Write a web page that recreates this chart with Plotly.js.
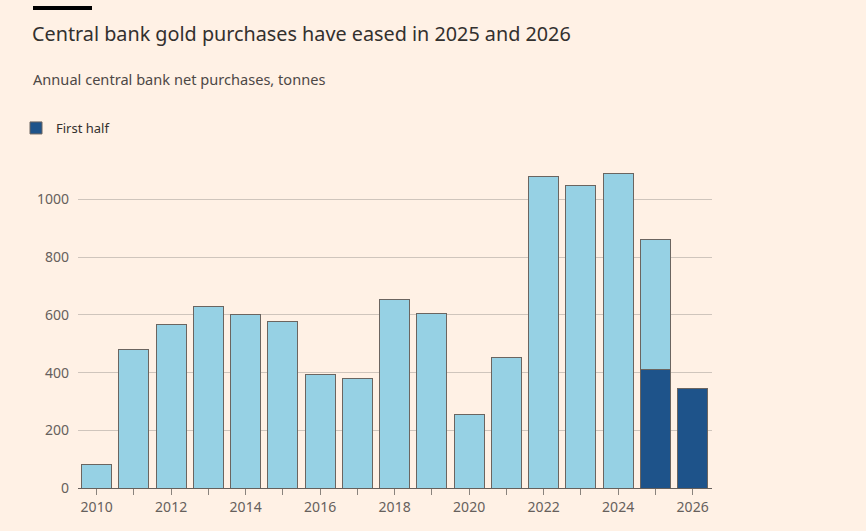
<!DOCTYPE html>
<html>
<head>
<meta charset="utf-8">
<script src="https://cdn.plot.ly/plotly-3.0.1.min.js"></script>
<style>
html,body{margin:0;padding:0;background:#fff1e5;}
#chart{width:866px;height:531px;}
</style>
</head>
<body>
<div id="chart"></div>
<script>
// ---- data ----
const years = [2010,2011,2012,2013,2014,2015,2016,2017,2018,2019,2020,2021,2022,2023,2024,2025,2026];
// full-year purchases (2025: remainder after first half)
const restOfYear = [80,479,568,628,600,578,394,378,655,604,254,451,1079,1049,1090,450,null];
const firstHalf = [null,null,null,null,null,null,null,null,null,null,null,null,null,null,null,412,344];
const xTickLabels = ["2010","","2012","","2014","","2016","","2018","","2020","","2022","","2024","","2026"];
const yTickVals = [0,200,400,600,800,1000];
const yTickLabels = ["0","200","400","600","800","1000"];

const titleText = "Central bank gold purchases have eased in 2025 and 2026";
const subtitleText = "Annual central bank net purchases, tonnes";

// ---- layout helpers (pixel -> paper) ----
const W = 866, H = 531;
const M = {l:78, r:154, t:150, b:43};
const pw = W - M.l - M.r, ph = H - M.t - M.b;
const px = x => (x - M.l) / pw;
const py = y => (H - M.b - y) / ph;

const FONT = "Noto Sans, Roboto, sans-serif";
const outline = {color:'#6b6560', width:1};

const traces = [
  {
    type:'bar', x:years, y:firstHalf, name:'First half',
    marker:{color:'#1e538a', line:outline},
    showlegend:true, hoverinfo:'x+y'
  },
  {
    type:'bar', x:years, y:restOfYear, name:'Full year',
    marker:{color:'#96d1e4', line:outline},
    showlegend:false, hoverinfo:'x+y'
  }
];

const layout = {
  width:W, height:H,
  paper_bgcolor:'#fff1e5', plot_bgcolor:'#fff1e5',
  margin:M,
  barmode:'stack', bargap:0.195,
  font:{family:FONT, color:'#66605c', size:13},
  title:{
    text:titleText, xref:'container', yref:'container',
    x:32/W, xanchor:'left', y:1-34/H, yanchor:'middle',
    font:{family:FONT, size:19.8, color:'#33302e'}
  },
  annotations:[
    {text:subtitleText, xref:'paper', yref:'paper', x:px(31), y:py(79),
     xanchor:'left', yanchor:'middle', showarrow:false,
     font:{family:FONT, size:14.6, color:'#4d4845'}}
  ],
  shapes:[
    {type:'rect', xref:'paper', yref:'paper', x0:px(33), x1:px(92), y0:py(6), y1:py(10),
     fillcolor:'#000000', line:{width:0}}
  ],
  legend:{
    x:px(16), y:py(128), xanchor:'left', yanchor:'middle',
    orientation:'h', bgcolor:'rgba(0,0,0,0)',
    font:{family:FONT, size:13, color:'#33302e'}
  },
  xaxis:{
    range:[2009.5, 2026.52], tickmode:'array', tickvals:years, ticktext:xTickLabels,
    ticks:'outside', ticklen:6, tickwidth:1, tickcolor:'#8a837d',
    showline:true, linecolor:'#66605c', linewidth:1,
    showgrid:false, zeroline:false, fixedrange:true,
    tickfont:{family:FONT, size:14, color:'#66605c'}
  },
  yaxis:{
    range:[0, ph/0.2885], tickmode:'array', tickvals:yTickVals, ticktext:yTickLabels,
    ticks:'', showgrid:true, gridcolor:'#cfc5bc', gridwidth:1,
    zeroline:false, showline:false, fixedrange:true, ticklabelstandoff:8,
    tickfont:{family:FONT, size:14, color:'#66605c'}
  }
};

Plotly.newPlot('chart', traces, layout, {displayModeBar:false, staticPlot:true});
</script>
</body>
</html>
